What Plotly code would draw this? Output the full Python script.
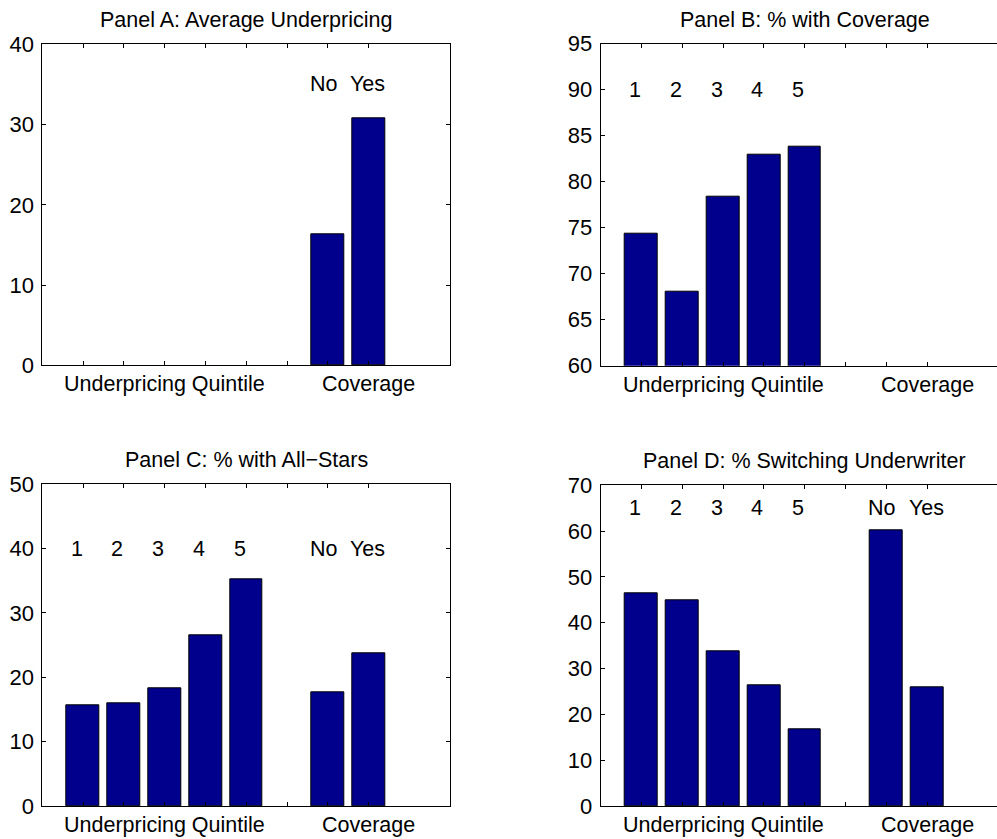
import plotly.graph_objects as go

# Bar slots: quintiles 1-5, an empty spacer slot, then coverage No / Yes
positions = [1, 2, 3, 4, 5, 6, 7, 8]
quintile_labels = ["1", "2", "3", "4", "5"]
coverage_labels = ["No", "Yes"]

panel_titles = [
    "Panel A: Average Underpricing",
    "Panel B: % with Coverage",
    "Panel C: % with All\u2212Stars",
    "Panel D: % Switching Underwriter",
]

underpricing = [0, 0, 0, 0, 0, 0, 16.3, 30.8]
pct_coverage = [74.3, 68.0, 78.4, 82.9, 83.8, 0, 0, 0]
pct_allstars = [15.7, 16.0, 18.3, 26.6, 35.2, 0, 17.7, 23.7]
pct_switching = [46.4, 44.9, 33.8, 26.3, 16.7, 0, 60.1, 25.9]

y_ranges = [[0, 40], [60, 95], [0, 50], [0, 70]]
y_dticks = [10, 5, 10, 10]
label_heights = [35, 90, 40, 65]
show_quintile_labels = [False, True, True, True]
show_coverage_labels = [True, False, True, True]

W, H = 997, 839
FONT = "Liberation Sans, Arial, Helvetica, sans-serif"
FS_TICK = 22
FS_TEXT = 21.5
BAR_COLOR = "#00008C"
UNIT_PX = 40.8  # pixels per x unit

# pixel boxes of the four axes: left, top, bottom
boxes = [
    (42.3, 44.3, 365.3),
    (600.7, 43.7, 365.7),
    (42.3, 484.3, 806.0),
    (600.7, 485.3, 806.0),
]

series = [underpricing, pct_coverage, pct_allstars, pct_switching]

fig = go.Figure()
annotations = []


def text_font():
    return dict(family=FONT, size=FS_TEXT, color="black")


for i, (vals, (left, top, bottom)) in enumerate(zip(series, boxes)):
    n = i + 1
    xa = "x" if n == 1 else f"x{n}"
    ya = "y" if n == 1 else f"y{n}"
    right = min(left + 10 * UNIT_PX, W)
    x_max = (right - left) / UNIT_PX
    clipped = right >= W

    # empty slots get no outline so they sit invisibly on the baseline
    edge_widths = [1 if v != 0 else 0 for v in vals]
    fig.add_trace(go.Bar(
        x=positions, y=vals, width=0.8,
        marker=dict(color=BAR_COLOR, line=dict(color="black", width=edge_widths)),
        xaxis=xa, yaxis=ya, showlegend=False, hoverinfo="x+y",
    ))

    fig.update_layout({
        f"xaxis{'' if n == 1 else n}": dict(
            domain=[left / W, right / W], range=[0, x_max],
            anchor=ya, tickvals=positions, showticklabels=False,
            ticks="inside", ticklen=4, tickcolor="black",
            showline=True, linecolor="black", linewidth=1, mirror="ticks",
            showgrid=False, zeroline=False, fixedrange=True, automargin=False,
        ),
        f"yaxis{'' if n == 1 else n}": dict(
            domain=[1 - bottom / H, 1 - top / H], range=y_ranges[i],
            anchor=xa, dtick=y_dticks[i], tick0=0,
            ticks="inside", ticklen=4, tickcolor="black",
            showline=True, linecolor="black", linewidth=1,
            mirror=False if clipped else "ticks",
            showgrid=False, zeroline=False, fixedrange=True, automargin=False,
            tickfont=dict(family=FONT, size=FS_TICK, color="black"),
            ticklabelstandoff=3,
        ),
    })

    # panel title
    annotations.append(dict(
        text=panel_titles[i], xref="paper", yref="paper",
        x=(left + 5 * UNIT_PX) / W, y=1 - (top - 24) / H,
        xanchor="center", yanchor="middle", showarrow=False,
        font=text_font(),
    ))
    # group captions under the axis
    for txt, xpos in (("Underpricing Quintile", 3), ("Coverage", 8)):
        annotations.append(dict(
            text=txt, xref=xa, yref="paper", x=xpos, y=1 - (bottom + 19) / H,
            xanchor="center", yanchor="middle", showarrow=False,
            font=text_font(),
        ))
    # category labels inside the plot
    if show_quintile_labels[i]:
        for k, lab in enumerate(quintile_labels):
            annotations.append(dict(
                text=lab, xref=xa, yref=ya, x=positions[k] - 0.16,
                y=label_heights[i], xanchor="center", yanchor="middle",
                showarrow=False, font=text_font(),
            ))
    if show_coverage_labels[i]:
        for lab, xpos in zip(coverage_labels, (6.9, 7.98)):
            annotations.append(dict(
                text=lab, xref=xa, yref=ya, x=xpos, y=label_heights[i],
                xanchor="center", yanchor="middle", showarrow=False,
                font=text_font(),
            ))

fig.update_layout(
    width=W, height=H, margin=dict(l=0, r=0, t=0, b=0, autoexpand=False),
    paper_bgcolor="white", plot_bgcolor="white",
    annotations=annotations, bargap=0,
    font=dict(family=FONT, size=FS_TEXT, color="black"),
)

fig.write_html("out.html")
